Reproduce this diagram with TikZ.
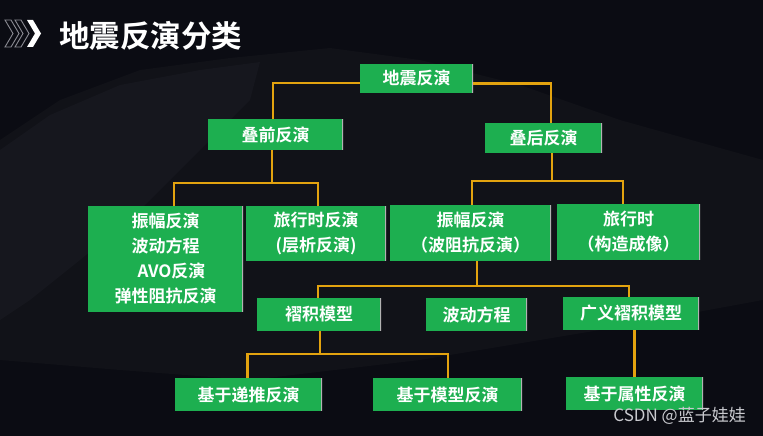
\documentclass[tikz,border=0pt]{standalone}
\usepackage{fontspec}
\setmainfont{Noto Sans CJK SC}[BoldFont={Noto Sans CJK SC Bold}]
\definecolor{bgdark}{HTML}{0B0C13}
\definecolor{bgmount}{HTML}{16171E}
\definecolor{bgmount2}{HTML}{111218}
\definecolor{boxgreen}{HTML}{1DAF50}
\definecolor{linegold}{HTML}{E3A30F}
\definecolor{chevgray}{HTML}{8C8C94}
\definecolor{wmark}{HTML}{C9CACF}
\tikzset{
  box/.style={rectangle, fill=boxgreen, draw=none, text=white,
    font=\fontsize{17pt}{25pt}\selectfont\bfseries, align=center,
    inner sep=0pt, path picture={\draw[gray!60, line width=1.2pt]
      (path picture bounding box.north east) -- (path picture bounding box.south east);}},
  conn/.style={draw=linegold, line width=2.4pt},
}
\begin{document}
\begin{tikzpicture}[x=1pt,y=-1pt]
\fill[bgdark] (0,0) rectangle (763,436);
\useasboundingbox (0,0) rectangle (763,436);
% faint mountain backdrop
\fill[bgmount2] (0,140) -- (60,100) -- (140,70) -- (230,58) -- (330,48) -- (420,60) -- (520,85) -- (620,120) -- (763,160) -- (763,300) -- (600,330) -- (420,360) -- (250,380) -- (120,370) -- (0,360) -- cycle;
\fill[bgmount] (0,150) -- (50,115) -- (120,85) -- (200,70) -- (260,62) -- (250,100) -- (200,150) -- (140,210) -- (80,260) -- (30,300) -- (0,320) -- cycle;
% title chevrons
\foreach \x in {5,15} {
  \draw[chevgray, line width=0.9pt] (\x,20) -- ++(6,0) -- ++(8,13.5) -- ++(-8,13.5) -- ++(-6,0) -- ++(8,-13.5) -- cycle;
}
\fill[white] (27,20) -- ++(6,0) -- ++(8,13.5) -- ++(-8,13.5) -- ++(-6,0) -- ++(8,-13.5) -- cycle;
\node[text=white, font=\fontsize{30.5pt}{31pt}\selectfont\bfseries, anchor=west, inner sep=0pt] (title) at (59,36) {地震反演分类};
% boxes
\node[box, minimum width=113pt, minimum height=29pt] (n0) at (416.5,78.5) {地震反演};
\node[box, minimum width=135pt, minimum height=31pt] (n1) at (275.5,134.5) {叠前反演};
\node[box, minimum width=117pt, minimum height=30pt] (n2) at (543.5,138) {叠后反演};
\node[box, minimum width=155pt, minimum height=106pt] (n3) at (165.5,259) {振幅反演\\波动方程\\\hspace*{12pt}AVO反演\\弹性阻抗反演};
\node[box, minimum width=140pt, minimum height=55pt] (n4) at (316,233.5) {旅行时反演\\(层析反演)};
\node[box, minimum width=161pt, minimum height=56pt] (n5) at (470.5,233) {振幅反演\\（波阻抗反演）};
\node[box, minimum width=143pt, minimum height=56pt] (n6) at (628.5,232) {旅行时\\（构造成像）};
\node[box, minimum width=124pt, minimum height=33pt] (n7) at (319,314.5) {褶积模型};
\node[box, minimum width=101pt, minimum height=33pt] (n8) at (476.5,314.5) {波动方程};
\node[box, minimum width=136pt, minimum height=33pt] (n9) at (631,313.5) {广义褶积模型};
\node[box, minimum width=147pt, minimum height=33pt] (n10) at (248.5,394.5) {基于递推反演};
\node[box, minimum width=149pt, minimum height=33pt] (n11) at (447.5,394.5) {基于模型反演};
\node[box, minimum width=137pt, minimum height=33pt] (n12) at (634.5,393.5) {基于属性反演};
% junctions
\coordinate (j1) at (272,183);
\coordinate (j2) at (552,181);
\coordinate (j3) at (477,286);
\coordinate (j4) at (320,354);
% connectors
\draw[conn] ([yshift=-4.5pt]n0.west) -| ([xshift=-2.5pt]n1.north);
\draw[conn] ([yshift=-5pt]n0.east) -| ([xshift=7.5pt]n2.north);
\draw[conn] (j1 |- n1.south) -- (j1);
\draw[conn] ([xshift=8.5pt]n3.north) |- (j1) -| ([xshift=2pt]n4.north);
\draw[conn] (j2 |- n2.south) -- (j2);
\draw[conn] ([xshift=1.5pt]n5.north) |- (j2) -| ([xshift=-5.5pt]n6.north);
\draw[conn] (j3 |- n5.south) -- (j3);
\draw[conn] ([xshift=-1pt]n7.north) |- (j3) -| ([xshift=-2pt]n9.north);
\draw[conn] (j4 |- n7.south) -- (j4);
\draw[conn] ([xshift=-1pt]n10.north) |- (j4) -| ([xshift=0.5pt]n11.north);
\draw[conn] (n12.north) -- (n12.north |- n9.south);
% watermark
\node[text=wmark, font=\fontsize{17pt}{18pt}\selectfont, anchor=east, inner sep=0pt] (wm) at (746,416) {CSDN @蓝子娃娃};
\end{tikzpicture}
\end{document}
